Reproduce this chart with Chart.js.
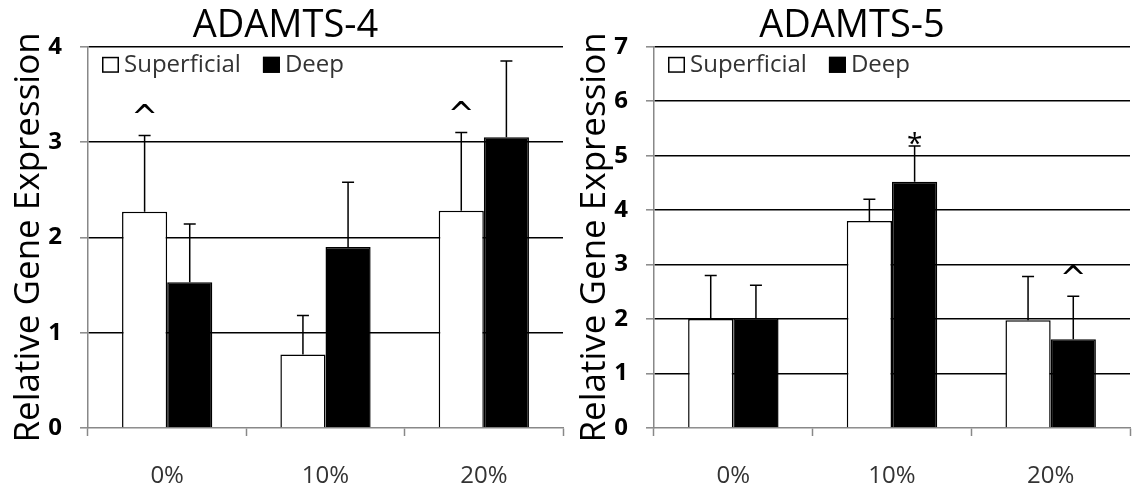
<!DOCTYPE html>
<html>
<head>
<meta charset="utf-8">
<script src="https://cdn.jsdelivr.net/npm/chart.js@4.4.0/dist/chart.umd.min.js"></script>
<style>
    body { margin: 0; background: #fff; }
    #wrap { display: flex; width: 1133px; height: 488px; }
    canvas { display: block; }
</style>
</head>
<body>
<div id="wrap">
    <canvas id="chart-adamts4" width="566" height="488"></canvas>
    <canvas id="chart-adamts5" width="567" height="488"></canvas>
</div>
<script>
const categories = ['0%', '10%', '20%'];
const seriesNames = ['Superficial', 'Deep'];

// ADAMTS-4
const superficial4 = [2.27, 0.77, 2.28];
const superficialErr4 = [0.80, 0.41, 0.82];
const deep4 = [1.53, 1.90, 3.05];
const deepErr4 = [0.61, 0.68, 0.80];
const superficialMarks4 = ['^', '', '^'];
const deepMarks4 = ['', '', ''];

// ADAMTS-5
const superficial5 = [2.00, 3.80, 1.98];
const superficialErr5 = [0.80, 0.40, 0.80];
const deep5 = [2.02, 4.52, 1.63];
const deepErr5 = [0.60, 0.66, 0.79];
const superficialMarks5 = ['', '', ''];
const deepMarks5 = ['', '*', '^'];

const FONT = '"Open Sans", "Noto Sans", sans-serif';

// draws positive error bars and the significance marks above them
const errorBarPlugin = {
    id: 'errorBars',
    afterDatasetsDraw(chart) {
        const ctx = chart.ctx;
        const yScale = chart.scales.y;
        chart.data.datasets.forEach(function (dataset, i) {
            const meta = chart.getDatasetMeta(i);
            meta.data.forEach(function (bar, j) {
                const top = dataset.data[j] + dataset.errors[j];
                const yBar = yScale.getPixelForValue(dataset.data[j]);
                const yTop = yScale.getPixelForValue(top);
                ctx.save();
                ctx.strokeStyle = '#000';
                ctx.lineWidth = 1.5;
                ctx.beginPath();
                ctx.moveTo(bar.x, yBar);
                ctx.lineTo(bar.x, yTop);
                ctx.moveTo(bar.x - 6, yTop);
                ctx.lineTo(bar.x + 6, yTop);
                ctx.stroke();

                const mark = dataset.marks[j];
                if (mark === '*') {
                    ctx.fillStyle = '#000';
                    ctx.textAlign = 'center';
                    ctx.textBaseline = 'middle';
                    ctx.font = '28px ' + FONT;
                    ctx.fillText(mark, bar.x, yTop - 1);
                } else if (mark) {
                    ctx.fillStyle = '#000';
                    ctx.textAlign = 'center';
                    ctx.textBaseline = 'middle';
                    ctx.font = '32px "DejaVu Sans"';
                    ctx.fillText(mark, bar.x, yTop - 16);
                }
                ctx.restore();
            });
        });
    }
};

// legend drawn inside the plot area, top left
const innerLegendPlugin = {
    id: 'innerLegend',
    afterDraw(chart) {
        const ctx = chart.ctx;
        const area = chart.chartArea;
        let x = area.left + 14;
        const y = area.top + 18;
        ctx.save();
        ctx.font = '24px ' + FONT;
        ctx.textBaseline = 'middle';
        ctx.textAlign = 'left';
        chart.data.datasets.forEach(function (dataset) {
            ctx.fillStyle = dataset.backgroundColor;
            ctx.fillRect(x, y - 8, 17, 16);
            ctx.strokeStyle = '#000';
            ctx.lineWidth = 1.5;
            ctx.strokeRect(x + 0.75, y - 7.25, 15.5, 14.5);
            ctx.fillStyle = '#333';
            ctx.fillText(dataset.label, x + 22, y);
            x += 22 + ctx.measureText(dataset.label).width + 22;
        });
        ctx.restore();
    }
};

function createChart(ctx, title, yMax, sup, supErr, supMarks, deep, deepErr, deepMarks) {
    return new Chart(ctx, {
        type: 'bar',
        data: {
            labels: categories,
            datasets: [
                {
                    label: seriesNames[0],
                    data: sup,
                    errors: supErr,
                    marks: supMarks,
                    backgroundColor: '#fff',
                    borderColor: '#000',
                    borderWidth: 1.5,
                    categoryPercentage: 0.57,
                    barPercentage: 1.0,
                },
                {
                    label: seriesNames[1],
                    data: deep,
                    errors: deepErr,
                    marks: deepMarks,
                    backgroundColor: '#000',
                    borderColor: '#000',
                    borderWidth: 1.5,
                    categoryPercentage: 0.57,
                    barPercentage: 1.0,
                }
            ],
        },
        options: {
            responsive: false,
            animation: false,
            layout: {
                padding: { left: 8, right: 3, top: 0, bottom: 0 }
            },
            plugins: {
                tooltip: { enabled: false },
                legend: { display: false },
                title: {
                    display: true,
                    text: title,
                    color: '#000',
                    font: { family: FONT, size: 38, weight: 'normal', lineHeight: 1.1 },
                    padding: { top: 5, bottom: 0 },
                },
            },
            scales: {
                x: {
                    afterFit: (scale) => { scale.height = 60; },
                    grid: {
                        offset: true,
                        drawOnChartArea: false,
                        drawTicks: true,
                        tickLength: 8,
                        tickColor: '#888',
                        tickWidth: 1.5,
                    },
                    border: { color: '#888', width: 1.5 },
                    ticks: {
                        color: '#333',
                        padding: 28,
                        maxRotation: 0,
                        font: { family: FONT, size: 24, lineHeight: 1.0 },
                    }
                },
                y: {
                    min: 0,
                    max: yMax,
                    afterFit: (scale) => { scale.width = 80; },
                    ticks: {
                        stepSize: 1,
                        color: '#000',
                        padding: 18,
                        font: { family: FONT, size: 24, weight: 'bold' },
                    },
                    grid: {
                        color: (c) => c.tick && c.tick.value === 0 ? 'rgba(0,0,0,0)' : '#000',
                        lineWidth: 1.6,
                        tickLength: 8,
                        tickColor: '#888',
                        tickWidth: 1.5,
                    },
                    border: { color: '#888', width: 1.5 },
                    title: {
                        display: true,
                        text: 'Relative Gene Expression',
                        color: '#000',
                        font: { family: FONT, size: 35 },
                        padding: 0,
                    }
                }
            }
        },
        plugins: [errorBarPlugin, innerLegendPlugin]
    });
}

const chart4 = createChart(document.getElementById('chart-adamts4'), 'ADAMTS-4', 4,
    superficial4, superficialErr4, superficialMarks4, deep4, deepErr4, deepMarks4);
const chart5 = createChart(document.getElementById('chart-adamts5'), 'ADAMTS-5', 7,
    superficial5, superficialErr5, superficialMarks5, deep5, deepErr5, deepMarks5);
</script>
</body>
</html>
